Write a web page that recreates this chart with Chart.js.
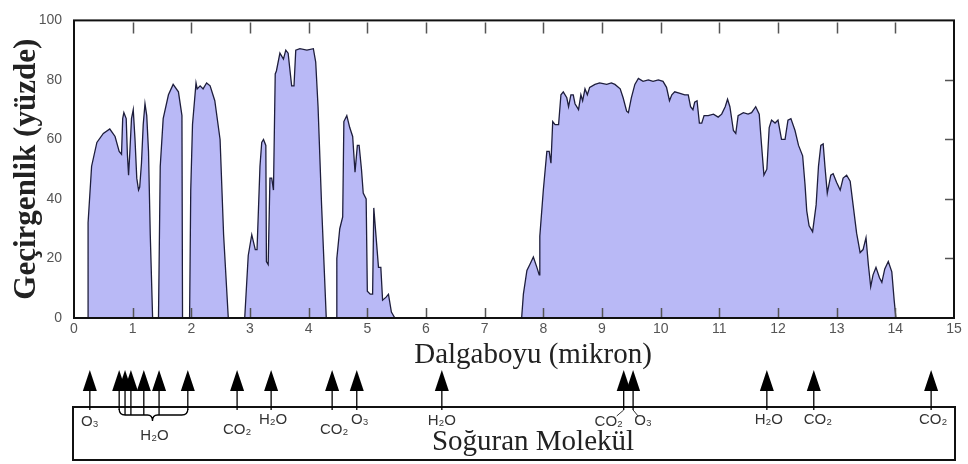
<!DOCTYPE html>
<html>
<head>
<meta charset="utf-8">
<script src="https://cdn.jsdelivr.net/npm/chart.js@4.4.0/dist/chart.umd.min.js"></script>
<style>
html,body{margin:0;padding:0;background:#fff;}
#wrap{width:968px;height:464px;position:relative;}
</style>
</head>
<body>
<div id="wrap"><canvas id="c"></canvas></div>
<script>
// ---- data ----
const wavelength = [
  0.24,0.24,0.30,0.39,0.50,0.61,0.70,0.77,0.81,0.83,0.85,0.89,0.91,0.93,0.95,0.98,1.01,1.04,1.07,1.10,1.12,1.15,1.18,1.21,1.24,1.27,1.30,1.34,
  1.44,1.47,1.52,1.61,1.69,1.78,1.84,1.85,
  1.97,1.99,2.02,2.08,2.10,2.15,2.20,2.26,2.32,2.40,2.49,2.55,2.63,
  2.91,2.97,3.03,3.09,3.12,3.17,3.20,3.23,3.27,3.28,3.31,3.34,3.37,3.40,3.43,3.45,3.51,3.57,3.61,3.65,3.71,3.75,3.78,3.85,3.97,4.08,4.12,4.16,4.22,4.30,
  4.47,4.48,4.53,4.58,4.60,4.65,4.70,4.75,4.79,4.83,4.86,4.90,4.93,4.98,5.00,5.05,5.09,5.11,5.15,5.19,5.23,5.26,5.32,5.36,5.41,5.47,
  7.63,7.66,7.72,7.77,7.83,7.89,7.93,7.94,8.00,8.06,8.10,8.13,8.16,8.20,8.26,8.30,8.34,8.40,8.43,8.47,8.51,8.54,8.60,8.64,8.67,8.71,8.75,8.79,8.88,8.96,9.08,9.16,9.22,9.31,9.36,9.42,9.45,9.50,9.56,9.62,9.70,9.79,9.87,9.96,
  10.04,10.10,10.15,10.19,10.24,10.33,10.41,10.47,10.51,10.55,10.58,10.62,10.66,10.70,10.74,10.81,10.90,10.98,11.04,11.10,11.14,11.18,11.24,11.28,11.32,11.41,11.49,11.55,11.62,11.68,11.72,11.76,11.81,11.85,11.89,11.95,
  12.00,12.06,12.12,12.17,12.22,12.29,12.35,12.42,12.46,12.49,12.53,12.59,12.65,12.69,12.73,12.77,12.80,12.84,12.90,12.94,13.00,13.06,13.11,13.17,13.23,13.28,13.34,13.40,13.45,13.50,13.54,13.58,13.62,13.67,13.73,13.77,13.82,13.88,13.94,13.98,14.01
];
const transmission = [
  0,32,51,59,62,63.5,61,56,55,67,69,67,55,48,55,67,70,60,47,43,44,52,65,72,68,56,28,0,
  0,51,67,75,78.5,76,68,0,
  0,43,65,79,77,78,77,79,78,73,60,28,0,
  0,21,28,23,23,51,59,60,58,19,18,47,47,43,82,83,89,87,90,89,78,78,90,90.5,90,90.5,86,71,38,0,
  0,20,30,34,66,68,64,61,49,58,58,50,42,40,9,8,8,37,27,17,17,6,7,8,2,0,
  0,8,16,18,20.5,17,14.5,27.5,43,56,56,52,66,65,65,75,76,74,71,75,75,72,70,75,73,77,75,77.5,78.5,79,78.5,79,78.5,77,74,69.5,69,74,78.5,80.5,79.5,80,79.5,80,
  79.5,77.5,73,75,76,75.5,75,75,71,70,72.5,73,65.5,65.5,68,68,68.5,67.5,68.5,71,73.5,71,63,62,68,69,68.5,69,71,68.5,58,48,50,64,66.5,65.5,
  66.5,60,60,66.5,67,63,58,54.5,45,36,31,29,38,51,58,58.5,51,42,48,48.5,45.5,43,47,48,46,38,28.5,22,23,27,18,10.5,14.5,17,13.5,12,16.5,19,15.5,6,0
];
const xTickLabels = ['0','1','2','3','4','5','6','7','8','9','10','11','12','13','14','15'];
const yTickLabels = ['0','20','40','60','80','100'];
const bandWavelength = [0.27,0.77,0.87,0.97,1.19,1.45,1.94,2.78,3.36,4.40,4.82,6.27,9.37,9.53,11.81,12.61,14.61];
const bandMolecule = ['O₃','H₂O','H₂O','H₂O','H₂O','H₂O','H₂O','CO₂','H₂O','CO₂','O₃','H₂O','CO₂','O₃','H₂O','CO₂','CO₂'];
const xTitle = 'Dalgaboyu (mikron)';
const yTitle = 'Geçirgenlik (yüzde)';
const panelTitle = 'Soğuran Molekül';

// ---- drawing ----
const points = wavelength.map((w, i) => ({x: w, y: transmission[i]}));

const panelPlugin = {
  id: 'panel',
  afterLayout(chart) {
    // the original axis title sits a little right of the plot centre
    const s = chart.scales.x;
    if (s && !s._titleShifted) {
      const orig = s.drawTitle.bind(s);
      s.drawTitle = function () {
        this.ctx.save();
        this.ctx.translate(19, 0);
        orig();
        this.ctx.restore();
      };
      s._titleShifted = true;
    }
  },
  afterDatasetsDraw(chart) {
    const {ctx, chartArea: a, scales: {x: xs, y: ys}} = chart;
    ctx.save();
    ctx.strokeStyle = '#555';
    ctx.lineWidth = 1.5;
    ctx.beginPath();
    xs.ticks.forEach(t => {
      if (t.value <= xs.min || t.value >= xs.max) return;
      const px = Math.round(xs.getPixelForValue(t.value)) + 0.5;
      ctx.moveTo(px, a.top + 2); ctx.lineTo(px, a.top + 13);
      ctx.moveTo(px, a.bottom); ctx.lineTo(px, a.bottom - 10);
    });
    ys.ticks.forEach(t => {
      if (t.value <= ys.min || t.value >= ys.max) return;
      const py = Math.round(ys.getPixelForValue(t.value)) + 0.5;
      ctx.moveTo(a.right, py); ctx.lineTo(a.right - 9, py);
    });
    ctx.stroke();
    ctx.strokeStyle = '#111';
    ctx.lineWidth = 2;
    ctx.strokeRect(a.left, a.top, a.right - a.left, a.bottom - a.top);
    ctx.restore();
  },
  afterDraw(chart) {
    const {ctx, chartArea: a, scales: {x: xs}} = chart;
    const H = chart.height;
    const boxTop = a.bottom + 89, boxBottom = H - 4;
    const headTop = a.bottom + 52, headBot = a.bottom + 73;
    ctx.save();
    ctx.strokeStyle = '#111';
    ctx.lineWidth = 2;
    ctx.strokeRect(a.left - 1, boxTop, a.right - a.left + 2, boxBottom - boxTop);
    const group = [1, 2, 3, 4, 5, 6];
    const gx1 = xs.getPixelForValue(bandWavelength[group[0]]);
    const gx2 = xs.getPixelForValue(bandWavelength[group[group.length - 1]]);
    const braceY = boxTop + 8;
    const gmid = (gx1 + gx2) / 2 - 1;
    ctx.fillStyle = '#000';
    ctx.strokeStyle = '#000';
    ctx.lineWidth = 1.3;
    bandWavelength.forEach((w, i) => {
      const px = xs.getPixelForValue(w);
      ctx.beginPath();
      ctx.moveTo(px, headTop);
      ctx.lineTo(px - 7, headBot);
      ctx.lineTo(px + 7, headBot);
      ctx.closePath();
      ctx.fill();
      ctx.beginPath();
      ctx.moveTo(px, headBot - 2);
      const inGroup = group.includes(i);
      ctx.lineTo(px, inGroup ? (i === group[0] || i === group[group.length-1] ? braceY - 5 : braceY) : boxTop + 3);
      ctx.stroke();
    });
    ctx.beginPath();
    ctx.moveTo(gx1, braceY - 6);
    ctx.quadraticCurveTo(gx1, braceY, gx1 + 6, braceY);
    ctx.lineTo(gmid - 5, braceY);
    ctx.quadraticCurveTo(gmid, braceY, gmid, braceY + 6);
    ctx.quadraticCurveTo(gmid, braceY, gmid + 5, braceY);
    ctx.lineTo(gx2 - 6, braceY);
    ctx.quadraticCurveTo(gx2, braceY, gx2, braceY - 6);
    ctx.stroke();
    const labelStyle = {
      0: [0, 15], 7: [0, 23], 8: [2, 13], 9: [2, 23], 10: [3, 13], 11: [0, 14],
      12: [-15, 15], 13: [10, 14], 14: [2, 13], 15: [4, 13], 16: [2, 13]
    };
    ctx.fillStyle = '#333';
    ctx.font = '15px "Liberation Sans", "DejaVu Sans", sans-serif';
    ctx.textAlign = 'center';
    ctx.textBaseline = 'middle';
    bandWavelength.forEach((w, i) => {
      if (group.includes(i)) return;
      const s = labelStyle[i] || [0, 14];
      const px = xs.getPixelForValue(w);
      ctx.fillText(bandMolecule[i], px + s[0], boxTop + s[1]);
    });
    ctx.fillText(bandMolecule[group[0]], gmid + 2, boxTop + 29);
    ctx.strokeStyle = '#333';
    ctx.lineWidth = 1;
    ctx.beginPath();
    const p12 = xs.getPixelForValue(bandWavelength[12]);
    const p13 = xs.getPixelForValue(bandWavelength[13]);
    ctx.moveTo(p12, boxTop + 3); ctx.lineTo(p12 - 7, boxTop + 9);
    ctx.moveTo(p13, boxTop + 3); ctx.lineTo(p13 + 5, boxTop + 9);
    ctx.stroke();
    ctx.fillStyle = '#222';
    ctx.font = '29px "Liberation Serif", "Times New Roman", serif';
    ctx.fillText(panelTitle, (a.left + a.right) / 2 + 19, boxTop + 35);
    ctx.restore();
  }
};

new Chart(document.getElementById('c'), {
  type: 'line',
  data: {
    datasets: [{
      data: points,
      borderColor: '#1e1e3c',
      borderWidth: 1.3,
      backgroundColor: '#b9b9f6',
      fill: 'origin',
      pointRadius: 0,
      tension: 0
    }]
  },
  options: {
    responsive: true,
    maintainAspectRatio: false,
    animation: false,
    layout: {padding: {top: 10, right: 14, left: 0, bottom: 0}},
    plugins: {legend: {display: false}, tooltip: {enabled: false}},
    scales: {
      x: {
        type: 'linear', min: 0, max: 15,
        afterBuildTicks: s => { s.ticks = xTickLabels.map(v => ({value: Number(v)})); },
        ticks: {
          callback: (v, i) => xTickLabels[i],
          autoSkip: false, maxRotation: 0, padding: 3,
          color: '#555', font: {family: '"Liberation Sans", sans-serif', size: 14}
        },
        grid: {display: false, drawTicks: false},
        border: {display: false},
        afterFit: s => { s.height = 146; },
        title: {
          display: true, text: xTitle, color: '#222',
          font: {family: '"Liberation Serif", "Times New Roman", serif', size: 29},
          padding: {top: 0, bottom: 91}
        }
      },
      y: {
        type: 'linear', min: 0, max: 100,
        afterBuildTicks: s => { s.ticks = yTickLabels.map(v => ({value: Number(v)})); },
        ticks: {
          callback: (v, i) => yTickLabels[i],
          padding: 12,
          color: '#555', font: {family: '"Liberation Sans", sans-serif', size: 14}
        },
        grid: {display: false, drawTicks: false},
        border: {display: false},
        afterFit: s => { s.width = 74; },
        title: {
          display: true, text: yTitle, color: '#222',
          font: {family: '"Liberation Serif", "Times New Roman", serif', size: 31, weight: 'bold'},
          padding: {top: 8, bottom: 0}
        }
      }
    }
  },
  plugins: [panelPlugin]
});
</script>
</body>
</html>
